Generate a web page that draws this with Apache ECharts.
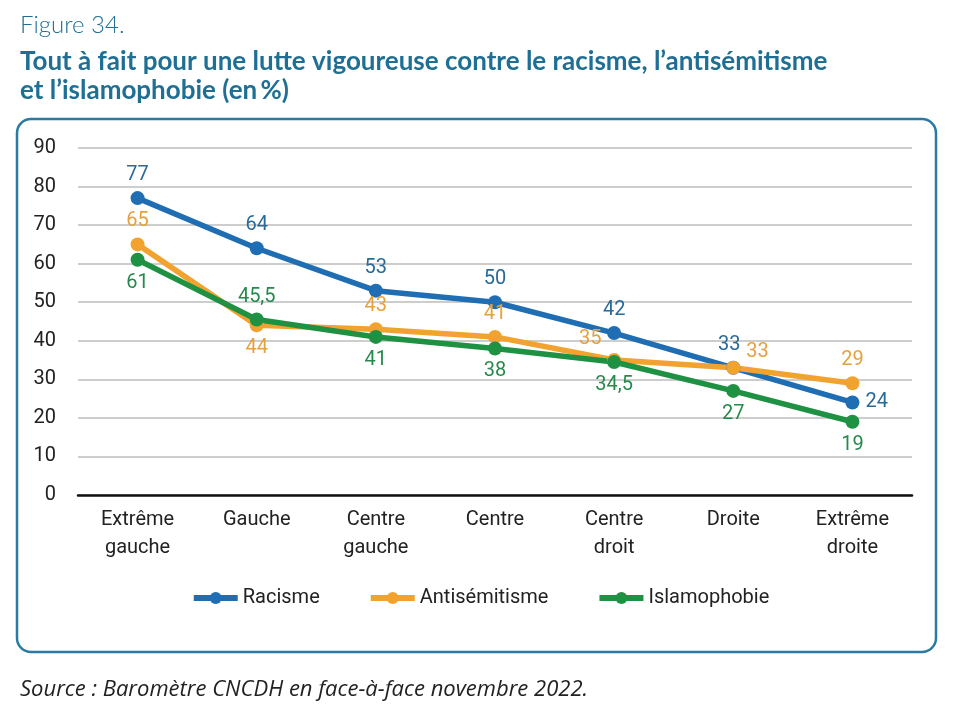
<!DOCTYPE html>
<html lang="fr">
<head>
  <meta charset="UTF-8">
  <title>Figure 34</title>
  <style>
    body{
      margin: 0;
      background: white;
    }
    .chart{
      width: 960px;
      height: 721px;
    }
  </style>
</head>
<body>
<div class="chart"></div>
<script src="https://cdn.jsdelivr.net/npm/echarts@6/dist/echarts.min.js"></script>
<script>
  const categories = ['Extrême\ngauche', 'Gauche', 'Centre\ngauche', 'Centre', 'Centre\ndroit', 'Droite', 'Extrême\ndroite'];
  const racisme = [77, 64, 53, 50, 42, 33, 24];
  const antisemitisme = [65, 44, 43, 41, 35, 33, 29];
  const islamophobie = [61, 45.5, 41, 38, 34.5, 27, 19];
  const yTicks = [0, 10, 20, 30, 40, 50, 60, 70, 80, 90];

  // where each value label sits around its point
  const racismeLabels = [['top'], ['top'], ['top'], ['top'], ['top'], ['top', [-4, 0]], ['right']];
  const antiLabels = [['top'], ['bottom'], ['top'], ['top'], ['top', [-24, 2]], ['right', [0, -16]], ['top']];
  const islamLabels = [['bottom'], ['top'], ['bottom'], ['bottom'], ['bottom'], ['bottom'], ['bottom']];

  const narrow = 'Roboto, sans-serif';

  function points(values, labels){
    return values.map((v, i) => ({
      value: v,
      label: {position: labels[i][0], offset: labels[i][1] || [0, 0]}
    }));
  }

  function lineSeries(name, color, textColor, values, labels){
    return {
      name: name,
      type: 'line',
      symbol: 'circle',
      symbolSize: 14,
      lineStyle: {width: 5.5, color: color},
      itemStyle: {color: color},
      label: {
        show: true,
        color: textColor,
        fontSize: 20,
        fontFamily: narrow,
        distance: 6,
        formatter: (p) => String(p.value).replace('.', ',')
      },
      emphasis: {disabled: true},
      data: points(values, labels)
    };
  }

  const container = document.querySelector('.chart');
  const instance = echarts.init(container);
  const option = {
    animation: false,
    title: [
      {
        text: 'Figure 34.',
        left: 15, top: 8,
        textStyle: {fontFamily: 'Lato', fontWeight: 300, fontSize: 24, color: '#1f6f94'}
      },
      {
        text: 'Tout à fait pour une lutte vigoureuse contre le racisme, l\u2019antisémitisme\net l\u2019islamophobie (en\u2009%)',
        left: 15, top: 42,
        textStyle: {fontFamily: 'Lato', fontWeight: 'bold', fontSize: 26, lineHeight: 29, color: '#1f6f94'}
      },
      {
        text: 'Source : Baromètre CNCDH en face-à-face novembre 2022.',
        left: 15, top: 674,
        textStyle: {fontFamily: '"Open Sans"', fontStyle: 'italic', fontWeight: 'normal', fontSize: 22, color: '#222'}
      }
    ],
    graphic: [{
      type: 'rect',
      shape: {x: 17, y: 119, width: 919, height: 533, r: 14},
      style: {fill: 'none', stroke: '#2a7aa2', lineWidth: 2.5},
      z: -1
    }],
    legend: {
      top: 583,
      left: 'center',
      itemWidth: 44,
      itemHeight: 15,
      itemGap: 48,
      lineStyle: {width: 6},
      textStyle: {fontFamily: narrow, fontSize: 20, color: '#222'},
      data: ['Racisme', 'Antisémitisme', 'Islamophobie']
    },
    grid: {left: 78, right: 48, top: 148, bottom: 226},
    xAxis: {
      type: 'category',
      data: categories,
      axisLine: {lineStyle: {color: '#111', width: 2.5}},
      axisTick: {show: false},
      axisLabel: {fontFamily: narrow, fontSize: 20, color: '#222', lineHeight: 28, margin: 11}
    },
    yAxis: {
      type: 'value',
      min: yTicks[0],
      max: yTicks[yTicks.length - 1],
      interval: 10,
      axisLine: {show: false},
      axisTick: {show: false},
      axisLabel: {fontFamily: narrow, fontSize: 20, color: '#222', margin: 22},
      splitLine: {lineStyle: {color: '#bdbdbd', width: 1.5}}
    },
    series: [
      lineSeries('Racisme', '#1f6db2', '#2a6a98', racisme, racismeLabels),
      lineSeries('Antisémitisme', '#f2a22e', '#e5a13c', antisemitisme, antiLabels),
      lineSeries('Islamophobie', '#1f9143', '#268a4c', islamophobie, islamLabels)
    ]
  };
  instance.setOption(option);
</script>
</body>
</html>
